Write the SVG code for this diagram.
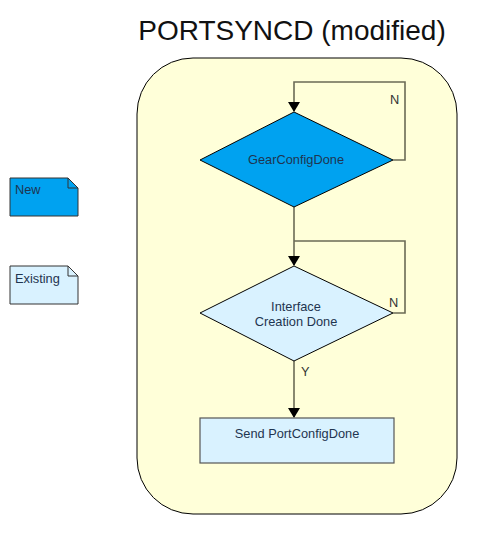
<svg xmlns="http://www.w3.org/2000/svg" width="501" height="554" viewBox="0 0 501 554">
<style>
text{font-family:"Liberation Sans",Arial,sans-serif;fill:#1f3550;}
.lbl{font-size:12.8px;}
.edge{fill:none;stroke:#6b6b55;stroke-width:1.6;}
.note{stroke:#333;stroke-width:1;}
</style>
<defs>
<marker id="arr" markerWidth="10" markerHeight="12" refX="9" refY="6" orient="auto" markerUnits="userSpaceOnUse">
<path d="M0,0 L10,6 L0,12 Z" fill="#000"/>
</marker>
</defs>
<rect width="501" height="554" fill="#fff"/>
<text x="292" y="40" text-anchor="middle" style="font-size:28px;fill:#111">PORTSYNCD (modified)</text>
<g id="container">
<rect x="137" y="58" width="320" height="456" rx="56" ry="56" fill="#ffffd9" stroke="#000" stroke-width="1"/>
</g>
<g id="legend-new">
<path class="note" d="M10,178 H68 L78,188 V216 H10 Z" fill="#00a2f0"/>
<path class="note" d="M68,178 V188 H78" fill="none"/>
<text x="15" y="194" class="lbl">New</text>
</g>
<g id="legend-existing">
<path class="note" d="M10,266 H68 L78,276 V304 H10 Z" fill="#d9f2ff"/>
<path class="note" d="M68,266 V276 H78" fill="none"/>
<text x="15" y="283" class="lbl">Existing</text>
</g>
<g id="connectors">
<path class="edge" d="M393,160 H405 V82 H294 V111" marker-end="url(#arr)"/>
<path class="edge" d="M294,207 V265" marker-end="url(#arr)"/>
<path class="edge" d="M393,313 H405 V241 H294"/>
<path class="edge" d="M294,361 V417" marker-end="url(#arr)"/>
<text x="390" y="104" class="lbl" style="fill:#333">N</text>
<text x="389" y="307" class="lbl" style="fill:#333">N</text>
<text x="301" y="376" class="lbl" style="fill:#333">Y</text>
</g>
<g id="gearconfigdone">
<polygon points="294,112 393,160 294,207 200,160" fill="#00a2f0" stroke="#000" stroke-width="1"/>
<text x="296" y="164" text-anchor="middle" class="lbl">GearConfigDone</text>
</g>
<g id="interface-creation-done">
<polygon points="294,266 393,313 294,361 200,313" fill="#d9f2ff" stroke="#000" stroke-width="1"/>
<text x="296" y="311" text-anchor="middle" class="lbl">Interface</text>
<text x="296" y="326" text-anchor="middle" class="lbl">Creation Done</text>
</g>
<g id="send-portconfigdone">
<rect x="200" y="418" width="194" height="45" fill="#d9f2ff" stroke="#555" stroke-width="1.2"/>
<text x="297" y="438" text-anchor="middle" class="lbl">Send PortConfigDone</text>
</g>
</svg>
